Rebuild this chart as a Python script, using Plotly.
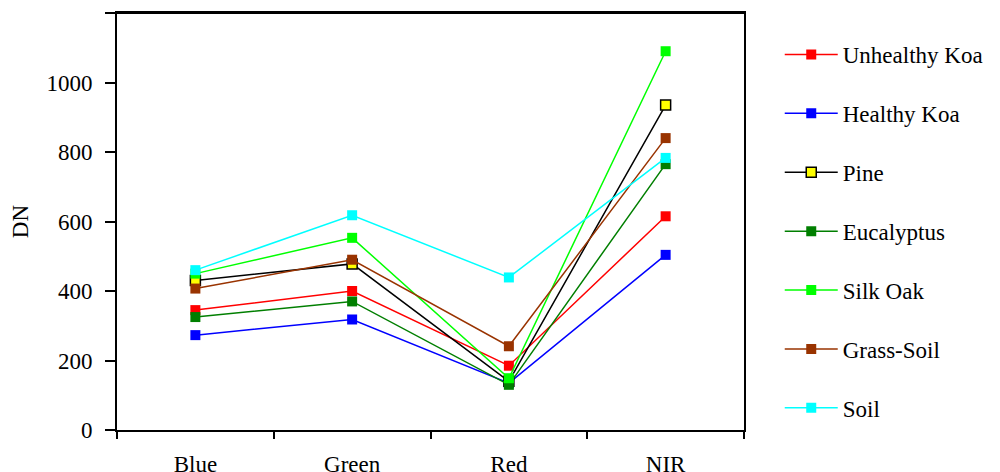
import plotly.graph_objects as go

# Bands on the x axis
bands = ['Blue', 'Green', 'Red', 'NIR']

# DN values, one list per cover type
unhealthy_koa = [345, 400, 185, 615]
healthy_koa = [273, 318, 135, 504]
pine = [430, 478, 140, 935]
eucalyptus = [325, 370, 130, 765]
silk_oak = [450, 553, 149, 1090]
grass_soil = [407, 490, 241, 840]
soil = [460, 618, 439, 783]

series = [
    ('Unhealthy Koa', unhealthy_koa, '#FF0000', '#FF0000'),
    ('Healthy Koa', healthy_koa, '#0000FF', '#0000FF'),
    ('Pine', pine, '#000000', '#FFFF00'),
    ('Eucalyptus', eucalyptus, '#007F00', '#007F00'),
    ('Silk Oak', silk_oak, '#00FF00', '#00FF00'),
    ('Grass-Soil', grass_soil, '#993300', '#993300'),
    ('Soil', soil, '#00FFFF', '#00FFFF'),
]

fig = go.Figure()
for name, vals, line_col, fill_col in series:
    fig.add_trace(go.Scatter(
        x=bands, y=vals, name=name, mode='lines+markers',
        legendgroup=name,
        line=dict(color=line_col, width=1.5),
        marker=dict(symbol='square', size=10, color=fill_col,
                    line=dict(color=line_col if name == 'Pine' else fill_col,
                              width=1.5 if name == 'Pine' else 0)),
    ))

# page body adds an 8px margin, so the figure is sized to the visible area
fig.update_layout(
    width=992, height=465,
    margin=dict(l=109, r=256, t=5, b=43, autoexpand=False),
    paper_bgcolor='white', plot_bgcolor='white',
    font=dict(family='Liberation Serif', size=23, color='black'),
    showlegend=True,
    legend=dict(
        x=1.057, xanchor='left', y=0.952, yanchor='top',
        font=dict(size=23), tracegroupgap=26, itemwidth=53,
        maxheight=470,
        bgcolor='rgba(0,0,0,0)',
    ),
)

# top edge of the frame
fig.add_shape(type='line', xref='paper', yref='paper', x0=0, x1=1, y0=1, y1=1,
              line=dict(color='black', width=2), layer='above')

fig.update_xaxes(
    type='category', range=[-0.5, 3.5], automargin=False,
    showline=True, linecolor='black', linewidth=2, mirror=True,
    ticks='outside', tickson='boundaries', ticklen=7, tickwidth=1.5,
    tickcolor='black', ticklabelstandoff=12,
    showgrid=False, zeroline=False,
)
fig.update_yaxes(
    range=[0, 1200], dtick=200, automargin=False,
    showline=True, linecolor='black', linewidth=2, mirror=True,
    ticks='outside', ticklen=10, tickwidth=1.5, tickcolor='black',
    ticklabelstandoff=8,
    showgrid=False, zeroline=False,
    title=dict(text='DN', standoff=14, font=dict(size=23)),
)

fig.write_html("out.html")
